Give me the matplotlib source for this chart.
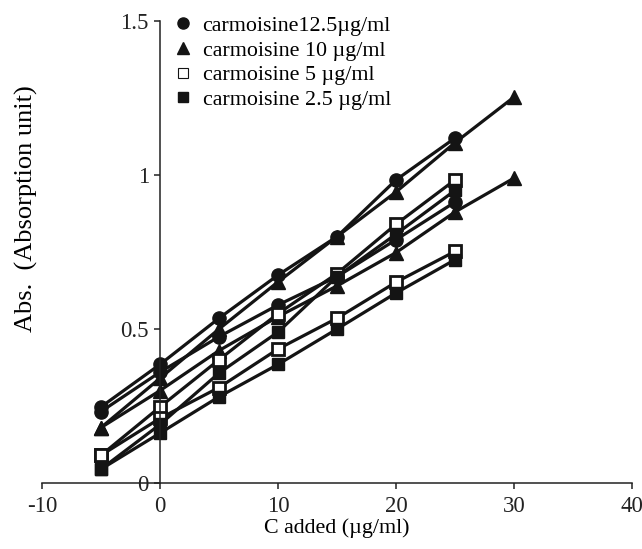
import matplotlib
matplotlib.use("Agg")
import matplotlib.pyplot as plt
from matplotlib.lines import Line2D

plt.rcParams['font.family'] = ['Liberation Serif', 'DejaVu Serif']
plt.rcParams['font.size'] = 15.8
plt.rcParams['axes.unicode_minus'] = False

# C added (ug/ml)
x_short = [-5, 0, 5, 10, 15, 20, 25]
x_long = [-5, 0, 5, 10, 15, 20, 25, 30]

# absorbance readings, two runs per concentration
circ_a = [0.247, 0.385, 0.535, 0.675, 0.80, 0.984, 1.12]
circ_b = [0.232, 0.36, 0.475, 0.578, 0.67, 0.79, 0.912]
tri_a = [0.18, 0.34, 0.50, 0.653, 0.80, 0.945, 1.105, 1.253]
tri_b = [0.18, 0.30, 0.43, 0.54, 0.64, 0.748, 0.88, 0.99]
open_a = [0.09, 0.247, 0.40, 0.55, 0.68, 0.84, 0.984]
open_b = [0.09, 0.21, 0.31, 0.435, 0.535, 0.652, 0.752]
fill_a = [0.045, 0.19, 0.357, 0.49, 0.67, 0.808, 0.95]
fill_b = [0.045, 0.162, 0.28, 0.385, 0.50, 0.617, 0.725]

labels = ['carmoisine12.5\u00b5g/ml', 'carmoisine 10 \u00b5g/ml',
          'carmoisine 5 \u00b5g/ml', 'carmoisine 2.5 \u00b5g/ml']

fig = plt.figure(figsize=(6.42, 5.49), dpi=100)
ax = fig.add_axes([0.0654, 0.1202, 0.919, 0.8415])

k = '#141414'
lw = 2.3
ms = 9.5
common = dict(color=k, lw=lw, clip_on=False)

ax.plot(x_short, circ_a, marker='o', ms=ms, **common)
ax.plot(x_short, circ_b, marker='o', ms=ms, **common)
ax.plot(x_long, tri_a, marker='^', ms=ms, **common)
ax.plot(x_long, tri_b, marker='^', ms=ms, **common)
ax.plot(x_short, open_a, marker='s', ms=8.5, mfc='white', mec=k, mew=2, **common)
ax.plot(x_short, open_b, marker='s', ms=8.5, mfc='white', mec=k, mew=2, **common)
ax.plot(x_short, fill_a, marker='s', ms=8.5, **common)
ax.plot(x_short, fill_b, marker='s', ms=8.5, **common)

ax.set_xlim(-10, 40)
ax.set_ylim(0, 1.5)
ax.set_xticks([-10, 0, 10, 20, 30, 40])
ax.set_yticks([0, 0.5, 1, 1.5])
ax.set_yticklabels(['0', '0.5', '1', '1.5'])

ax.spines['top'].set_visible(False)
ax.spines['right'].set_visible(False)
ax.spines['left'].set_position(('data', 0))
for s in ('left', 'bottom'):
    ax.spines[s].set_linewidth(1.1)
    ax.spines[s].set_color('#222222')
ax.tick_params(direction='out', length=4, width=1.1, colors='#222222',
               pad=4, labelsize=16.5)
ax.tick_params(axis='x', pad=5)

ax.set_xlabel('C added (\u00b5g/ml)', labelpad=1)
ax.set_ylabel('Abs.  (Absorption unit)', fontsize=19)
ax.yaxis.set_label_coords(-0.006, 0.595)

handles = [
    Line2D([], [], ls='none', marker='o', color=k, ms=8),
    Line2D([], [], ls='none', marker='^', color=k, ms=8),
    Line2D([], [], ls='none', marker='s', mfc='white', mec=k, mew=0.8, ms=7),
    Line2D([], [], ls='none', marker='s', color=k, ms=7),
]
ax.legend(handles, labels, loc='upper left', bbox_to_anchor=(0.22, 1.012),
          frameon=False, borderpad=0, borderaxespad=0, handlelength=1,
          handletextpad=0.4, labelspacing=0.2)

fig.savefig('out.png', dpi=100)
